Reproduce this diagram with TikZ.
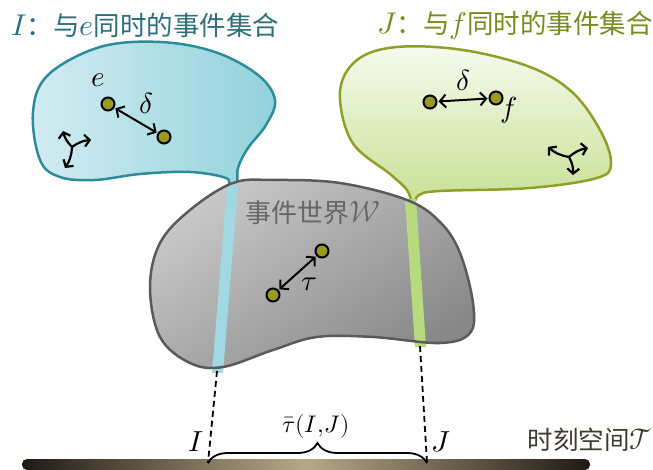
\documentclass[tikz,border=0pt]{standalone}
\usepackage{fontspec}
\usepackage{unicode-math}
\setmathfont{Latin Modern Math}
\newfontfamily\cjk{Noto Sans CJK SC}
\usetikzlibrary{arrows.meta,decorations.pathreplacing,calc}
\definecolor{tealc}{HTML}{2A6F7A}
\definecolor{olivec}{HTML}{7A8A22}
\definecolor{blueedge}{HTML}{2E8C9A}
\definecolor{greenedge}{HTML}{8FA02A}
\definecolor{grayedge}{HTML}{5A5A5A}
\definecolor{dotc}{HTML}{9A9A1E}
\definecolor{timec}{HTML}{3F3A30}
\definecolor{bardark}{HTML}{1E1A14}
\definecolor{barlight}{HTML}{B8A888}
\definecolor{bluelight}{HTML}{D2ECF1}
\definecolor{bluedark}{HTML}{92D2DC}
\definecolor{greentop}{HTML}{F6FAEE}
\definecolor{greenbot}{HTML}{C8E094}
\definecolor{graylight}{HTML}{C8C8C8}
\definecolor{graydark}{HTML}{888888}
\definecolor{bstripe}{HTML}{A0D9E2}
\definecolor{bstripemid}{HTML}{DFF2F5}
\definecolor{gstripe}{HTML}{B6DA7E}
\definecolor{gstripemid}{HTML}{E6F3CE}
\definecolor{wlabel}{HTML}{666666}
\newcommand{\titlemath}[1]{{\fontsize{30}{30}\selectfont$#1$}}
\tikzset{
  evdot/.style={circle,fill=dotc,draw=black,line width=2pt,inner sep=0pt,minimum size=13pt},
  dblarrow/.style={line width=2pt,{Straight Barb[length=6pt,width=13pt]}-{Straight Barb[length=6pt,width=13pt]},shorten <=1pt,shorten >=1pt},
  onearrow/.style={line width=2.2pt,-{Straight Barb[length=5pt,width=12pt]}},
  mathlab/.style={font=\fontsize{29}{32}\selectfont},
  proj/.style={line width=1.8pt,dash pattern=on 6pt off 4pt},
  blobline/.style={line width=2.5pt},
}
\begin{document}
\begin{tikzpicture}[x=1pt,y=-1pt]
\useasboundingbox (0,0) rectangle (653,470);
% blue blob
\path[draw=blueedge,blobline,left color=bluelight,right color=bluedark,shading angle=90]
  plot[smooth cycle,tension=0.6] coordinates{(33,112) (48,75) (100,47) (160,42) (215,52) (258,75) (275,100) (266,125) (248,148) (238,168) (237,187) (229,187) (226,178) (190,172) (140,174) (95,180) (60,177) (40,160)};
% green blob
\path[draw=greenedge,blobline,top color=greentop,bottom color=greenbot]
  plot[smooth cycle,tension=0.6] coordinates{(340,92) (357,60) (397,47) (463,50) (530,67) (572,92) (600,130) (611,163) (597,178) (530,188) (440,191) (419,195) (413,204) (407,190) (390,174) (352,142)};
% gray blob
\path[top color=graylight,bottom color=graydark,shading angle=35]
  plot[smooth cycle,tension=0.6] coordinates{(233,183) (273,180) (340,183) (407,200) (440,222) (460,253) (473,303) (470,333) (440,343) (373,337) (317,337) (273,350) (223,367) (190,363) (160,337) (150,287) (160,243) (190,210)};
% stripes
\shade[top color=bstripe,middle color=bstripemid,bottom color=bstripe]
  (227,186) -- (238,186) -- (223,373) -- (212,373) -- cycle;
\shade[top color=gstripe,middle color=gstripemid,bottom color=gstripe]
  (405,199) -- (416,199) -- (426,347) -- (415,347) -- cycle;
\draw[grayedge,blobline]
  plot[smooth cycle,tension=0.6] coordinates{(233,183) (273,180) (340,183) (407,200) (440,222) (460,253) (473,303) (470,333) (440,343) (373,337) (317,337) (273,350) (223,367) (190,363) (160,337) (150,287) (160,243) (190,210)};
% titles
\node[anchor=west,text=tealc,font=\fontsize{26.5}{30}\selectfont\cjk,inner sep=0pt] (tI) at (11,25) {\titlemath{I}：与\titlemath{e}同时的事件集合};
\node[anchor=east,text=olivec,font=\fontsize{26.5}{30}\selectfont\cjk,inner sep=0pt] (tJ) at (653,25) {\titlemath{J}：与\titlemath{f}同时的事件集合};
\node[text=wlabel,font=\fontsize{26}{29}\selectfont\cjk] (tW) at (313,213) {事件世界\titlemath{\mathcal{W}}};
\node[anchor=east,text=timec,font=\fontsize{25.5}{28}\selectfont\cjk,inner sep=0pt] (tT) at (653,440) {时刻空间\titlemath{\mathcal{T}}};
% left blob content
\node[evdot] (e) at (108,104) {};
\node[evdot] (e2) at (164,137) {};
\draw[dblarrow] (e) -- (e2);
\node[mathlab] (le) at (98,80) {$e$};
\node[mathlab] (ld1) at (146,103) {$\delta$};
\coordinate (c1) at (72,147);
\coordinate (c1a) at (63,131);
\coordinate (c1b) at (91,140);
\coordinate (c1c) at (65,168);
\draw[onearrow] (c1) to[bend left=15] (c1a);
\draw[onearrow] (c1) to[bend left=15] (c1b);
\draw[onearrow] (c1) to[bend left=15] (c1c);
% right blob content
\node[evdot] (f2) at (430,102) {};
\node[evdot] (f) at (496,98) {};
\draw[dblarrow] (f2) -- (f);
\node[mathlab] (ld2) at (463,80) {$\delta$};
\node[mathlab] (lf) at (509,110) {$f$};
\coordinate (c2) at (569,157);
\coordinate (c2a) at (548,147);
\coordinate (c2b) at (588,148);
\coordinate (c2c) at (573,175);
\draw[onearrow] (c2) to[bend left=15] (c2a);
\draw[onearrow] (c2) to[bend left=15] (c2b);
\draw[onearrow] (c2) to[bend left=15] (c2c);
% gray blob content
\node[evdot] (g1) at (273,295) {};
\node[evdot] (g2) at (322,251) {};
\draw[dblarrow] (g1) -- (g2);
\node[mathlab] (ltau) at (309,284) {$\tau$};
% time bar
\shade[left color=bardark,right color=bardark,middle color=barlight,rounded corners=5pt] (22,459) rectangle (590,470);
\coordinate (pI) at (217,371);
\coordinate (qI) at (208,463);
\coordinate (pJ) at (420,346);
\coordinate (qJ) at (427,463);
\draw[proj] (pI) -- (qI);
\draw[proj] (pJ) -- (qJ);
\draw[line width=1.8pt,decorate,decoration={brace,amplitude=20pt}] (qI) -- (qJ);
\node[mathlab] (lI) at (196,442) {$I$};
\node[mathlab] (lJ) at (441,442) {$J$};
\node[mathlab,font=\fontsize{24}{27}\selectfont] (ltb) at (316,426) {$\bar{\tau}(I{,}J)$};
\end{tikzpicture}
\end{document}
